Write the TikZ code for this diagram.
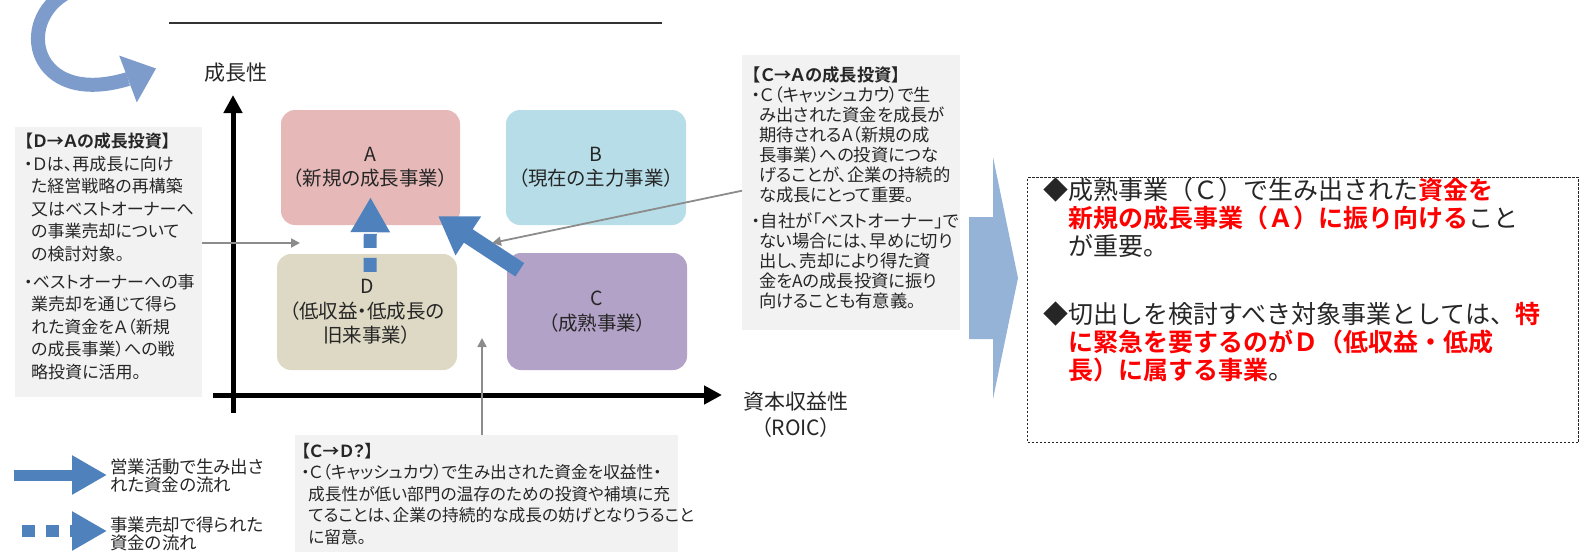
\documentclass[tikz,border=0pt]{standalone}
\usepackage{fontspec}
\setmainfont{Noto Sans CJK JP}[RawFeature=+palt, BoldFont={Noto Sans CJK JP Bold}]
\newfontfamily\jpfull{Noto Sans CJK JP}[BoldFont={Noto Sans CJK JP Bold}]
\usetikzlibrary{arrows.meta,calc}
\definecolor{qa}{HTML}{E6B9B8}
\definecolor{qb}{HTML}{B7DEE8}
\definecolor{qc}{HTML}{B3A2C7}
\definecolor{qd}{HTML}{DDD9C4}
\definecolor{boxgray}{HTML}{F2F2F2}
\definecolor{flow}{HTML}{4F81BD}
\definecolor{chev}{HTML}{95B3D7}
\definecolor{curv}{HTML}{7E9CCB}
\definecolor{conngray}{HTML}{8C8C8C}
\definecolor{txt}{HTML}{262626}
\definecolor{emred}{HTML}{FF0000}
\newcommand\redbf[1]{\textcolor{emred}{\bfseries #1}}
\begin{document}
\begin{tikzpicture}[x=1pt,y=-1pt,
  quad/.style={rounded corners=14pt, minimum width=180pt, minimum height=116pt, inner sep=0pt, align=center, font=\fontsize{19.5}{24.5}\selectfont, text=txt},
  gbox/.style={fill=boxgray, inner sep=0pt, anchor=north west},
  btext/.style={anchor=north west, inner sep=0pt, align=left, text=txt},
  gconn/.style={draw=conngray, line width=1.8pt, -{Triangle[length=9pt,width=9pt]}},
  axisline/.style={line width=5pt, -{Triangle[length=18pt,width=18pt]}},
  flowarrow/.style={draw=flow, line width=16pt, -{Triangle[length=36pt,width=44pt]}},
  dflow/.style={draw=flow, line width=13pt, dash pattern=on 14pt off 10pt, -{Triangle[length=35pt,width=37pt]}},
  lab/.style={inner sep=0pt, text=txt, align=center}
]
\useasboundingbox (0,0) rectangle (1583,555);

% title rule
\draw[line width=1.8pt, black!80] (169,23) -- (662,23);

% curved arrow
\coordinate (cvs) at (68,-8);
\coordinate (cve) at (128,79);
\draw[line width=14pt, curv] (cvs) .. controls (14,20) and (32,108) .. (cve);
\fill[curv] (119.2,55.6) -- (156,68.5) -- (136.8,102.4) -- cycle;

% axes
\coordinate (yb) at (233,413);
\coordinate (yt) at (233,95);
\coordinate (xl) at (213,395);
\coordinate (xr) at (722,395);
\draw[axisline] (yb) -- (yt);
\draw[axisline] (xl) -- (xr);
\node[lab, font=\fontsize{21}{26}\selectfont] (ylab) at (236,73) {成長性};
\node[lab, font=\fontsize{21}{26}\selectfont] (xlab) at (796,415) {資本収益性\\（ROIC）};

% quadrants
\node[quad, fill=qa, minimum width=179pt, minimum height=115pt] (A) at (370.5,167.5) {A\\（新規の成長事業）};
\node[quad, fill=qb, minimum height=115pt] (B) at (596,167.5) {B\\（現在の主力事業）};
\node[quad, fill=qd] (D) at (367,312) {D\\（低収益・低成長の\\旧来事業）};
\node[quad, fill=qc, minimum height=117pt] (C) at (597,311.5) {C\\（成熟事業）};

% flows
\draw[dflow] ([shift={(3,18)}]D.north) -- ([shift={(0,-28)}]A.south);
\draw[flowarrow] ([shift={(13,17)}]C.north west) -- ([shift={(-22,-9)}]A.south east);

% left box
\node[gbox, minimum width=187pt, minimum height=270pt] (lbox) at (15,127) {};
\node[btext, font=\fontsize{17}{22.5}\selectfont] (ltext) at (24,133) {%
{\bfseries 【Ｄ→Ａの成長投資】}\\
・Ｄは、再成長に向け\\
\hspace*{7pt}た経営戦略の再構築\\
\hspace*{7pt}又はベストオーナーへ\\
\hspace*{7pt}の事業売却について\\
\hspace*{7pt}の検討対象。\\[5.5pt]
・ベストオーナーへの事\\
\hspace*{7pt}業売却を通じて得ら\\
\hspace*{7pt}れた資金をＡ（新規\\
\hspace*{7pt}の成長事業）への戦\\
\hspace*{7pt}略投資に活用。};

% right-top box
\node[gbox, minimum width=218pt, minimum height=275pt] (rbox) at (742,55) {};
\node[btext, font=\fontsize{17.3}{20}\selectfont] (rtext) at (752,66) {%
{\bfseries 【Ｃ→Ａの成長投資】}\\
・Ｃ（キャッシュカウ）で生\\
\hspace*{7pt}み出された資金を成長が\\
\hspace*{7pt}期待されるA（新規の成\\
\hspace*{7pt}長事業）への投資につな\\
\hspace*{7pt}げることが、企業の持続的\\
\hspace*{7pt}な成長にとって重要。\\[6pt]
・自社が「ベストオーナー」で\\
\hspace*{7pt}ない場合には、早めに切り\\
\hspace*{7pt}出し、売却により得た資\\
\hspace*{7pt}金をAの成長投資に振り\\
\hspace*{7pt}向けることも有意義。};

% bottom box
\node[gbox, minimum width=383pt, minimum height=117pt] (bbox) at (295,435) {};
\node[btext, font=\fontsize{16.7}{21.5}\selectfont] (btxt) at (301,443) {%
{\bfseries 【Ｃ→Ｄ？】}\\
・Ｃ（キャッシュカウ）で生み出された資金を収益性・\\
\hspace*{7pt}成長性が低い部門の温存のための投資や補填に充\\
\hspace*{7pt}てることは、企業の持続的な成長の妨げとなりうること\\
\hspace*{7pt}に留意。};

% gray connectors
\coordinate (g1) at (300,243);
\coordinate (g2) at (492,243);
\coordinate (g3) at (482,338);
\draw[gconn] (lbox.east |- g1) -- (g1);
\draw[gconn] ([yshift=2]rbox.west) -- (g2);
\draw[gconn] (g3 |- bbox.north) -- (g3);

% legend
\coordinate (l1s) at (14,475);
\coordinate (l1e) at (107,475);
\coordinate (l2s) at (22,531);
\coordinate (l2e) at (107,531);
\draw[draw=flow, line width=11pt, -{Triangle[length=35pt,width=37pt]}] (l1s) -- (l1e);
\draw[draw=flow, line width=12pt, dash pattern=on 13pt off 11pt, -{Triangle[length=35pt,width=37pt]}] (l2s) -- (l2e);
\node[btext, anchor=west, font=\fontsize{17.5}{18.5}\selectfont] (leg1) at (110,476) {営業活動で生み出さ\\れた資金の流れ};
\node[btext, anchor=west, font=\fontsize{17.5}{18.5}\selectfont] (leg2) at (110,534) {事業売却で得られた\\資金の流れ};

% chevron
\fill[chev] (969,217) -- (993,217) -- (993,157) -- (1018,278) -- (993,399) -- (993,339) -- (969,339) -- cycle;

% right dashed box
\node[draw=black!85, line width=1.1pt, dash pattern=on 2.5pt off 1.5pt, anchor=north west, inner sep=0pt, minimum width=551pt, minimum height=265pt] (rdbox) at (1027,177) {};
\node[btext, font=\jpfull\fontsize{25}{28}\selectfont] (rdtext) at (1043,178) {%
◆成熟事業（Ｃ）で生み出された\redbf{資金を}\\
\phantom{◆}\redbf{新規の成長事業（Ａ）に振り向ける}こと\\
\phantom{◆}が重要。\\[40pt]
◆切出しを検討すべき対象事業としては、\redbf{特}\\
\phantom{◆}\redbf{に緊急を要するのがＤ（低収益・低成}\\
\phantom{◆}\redbf{長）に属する事業}。};
\end{tikzpicture}
\end{document}
